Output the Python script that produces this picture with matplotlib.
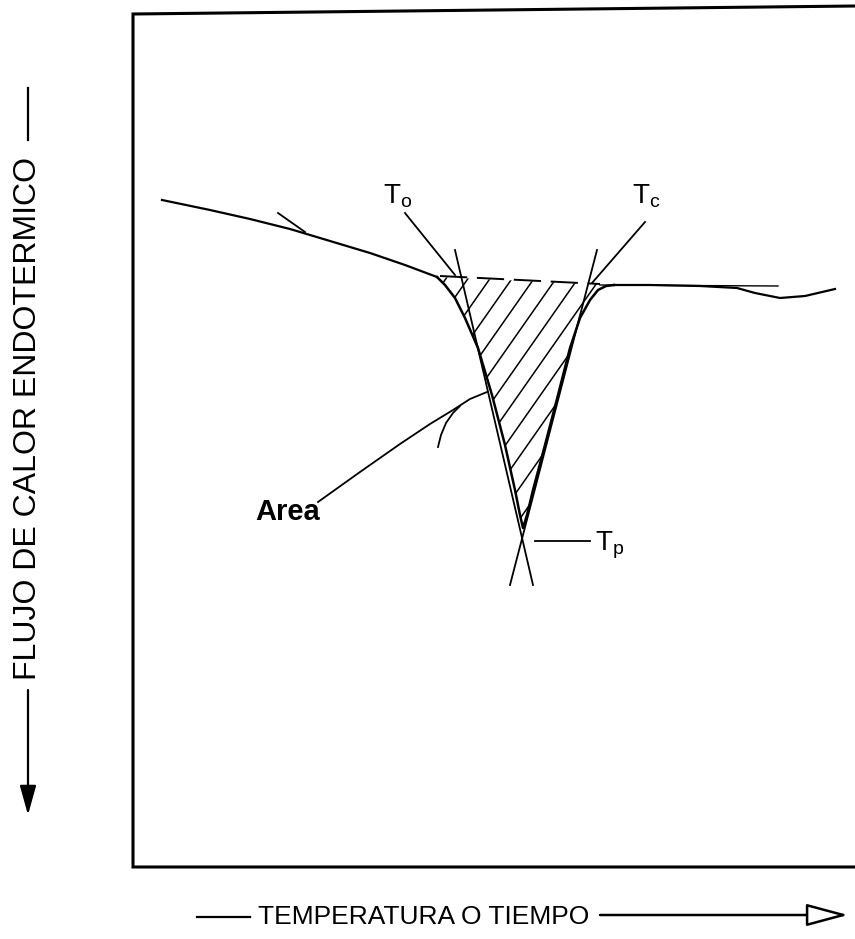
import numpy as np
import matplotlib.pyplot as plt
from matplotlib.patches import Polygon

plt.rcParams['font.family'] = ['Liberation Sans', 'DejaVu Sans']
plt.rcParams['mathtext.fontset'] = 'custom'
plt.rcParams['mathtext.rm'] = 'Liberation Sans'
plt.rcParams['mathtext.it'] = 'Liberation Sans'

# todo en coordenadas de la imagen (px, y hacia abajo)
marco_x = [855, 133, 133, 855]
marco_y = [6, 14, 867, 867]

# linea base antes del pico
base_izq_x = [162, 210, 250, 290, 330, 370, 405, 437]
base_izq_y = [200, 210, 219, 229, 241, 253, 265, 277]

# curva del pico endotermico
pico_x = [437, 445, 455, 465, 478, 492, 505, 515, 520, 523, 527, 533, 545, 558, 570, 580, 590, 598, 606, 614]
pico_y = [277, 285, 298, 318, 348, 395, 445, 490, 515, 528, 515, 490, 445, 395, 348, 318, 300, 290, 286, 285]

# linea base despues del pico
base_der_x = [614, 650, 700, 737, 755, 780, 805, 835]
base_der_y = [285, 285, 286, 288, 293, 298, 296, 289]

# extrapolaciones y tangentes
interp_x = [440, 600]
interp_y = [276, 284]
ext_der_x = [600, 778]
ext_der_y = [285, 286]
tan_izq_x = [455, 533]
tan_izq_y = [250, 585]
tan_der_x = [597, 510]
tan_der_y = [250, 585]

# indicadores
to_x, to_y = [405, 455], [213, 275]
tc_x, tc_y = [645, 592], [222, 283]
tp_x, tp_y = [535, 590], [541, 541]
area_x = [318, 360, 400, 430, 453, 470, 487]
area_y = [502, 472, 444, 424, 410, 399, 392]
gancho_x = [438, 441, 446, 453, 460]
gancho_y = [447, 435, 423, 413, 406]
marca_x = [278, 305]
marca_y = [213, 232]

fig = plt.figure(figsize=(8.55, 9.39), dpi=100)
ax = fig.add_axes([0, 0, 1, 1])
ax.set_xlim(0, 855)
ax.set_ylim(939, 0)
ax.axis('off')

k = 'black'
ax.plot(marco_x, marco_y, color=k, lw=2.2, solid_joinstyle='miter')

ax.plot(base_izq_x, base_izq_y, color=k, lw=1.6)
ax.plot(pico_x, pico_y, color=k, lw=1.8)
ax.plot(base_der_x, base_der_y, color=k, lw=1.6)
ax.plot(interp_x, interp_y, color=k, lw=1.4, dashes=(14, 5))
ax.plot(ext_der_x, ext_der_y, color=k, lw=1.0)
ax.plot(tan_izq_x, tan_izq_y, color=k, lw=1.3)
ax.plot(tan_der_x, tan_der_y, color=k, lw=1.3)

for xs, ys in [(to_x, to_y), (tc_x, tc_y), (tp_x, tp_y), (area_x, area_y),
               (gancho_x, gancho_y), (marca_x, marca_y)]:
    ax.plot(xs, ys, color=k, lw=1.3)

# rayado del area
zona = Polygon(np.column_stack([pico_x, pico_y]), closed=True, fill=False, lw=0)
ax.add_patch(zona)
yy = np.array([260, 560])
for c in np.arange(430, 720, 22):
    ln, = ax.plot(c - 0.7 * (yy - 270), yy, color=k, lw=1.1)
    ln.set_clip_path(zona)

ax.text(383, 182, r'T$_\mathrm{o}$', fontsize=20, ha='left', va='top')
ax.text(632, 183, r'T$_\mathrm{c}$', fontsize=20, ha='left', va='top')
ax.text(595, 530, r'T$_\mathrm{p}$', fontsize=20, ha='left', va='top')
ax.text(255, 512, 'Area', fontsize=21, fontweight='bold', ha='left', va='center')

# ejes
ax.plot([28, 28], [88, 140], color=k, lw=1.6)
ax.annotate('', xy=(28, 815), xytext=(28, 690),
            arrowprops=dict(arrowstyle='-|>,head_length=1.8,head_width=0.5',
                            color=k, lw=1.6, shrinkA=0, shrinkB=0))
ax.text(28, 418, 'FLUJO DE CALOR ENDOTERMICO', fontsize=23, rotation=90,
        ha='center', va='center')

ax.plot([197, 250], [917, 917], color=k, lw=1.6)
ax.text(424, 917, 'TEMPERATURA O TIEMPO', fontsize=19,
        ha='center', va='center')
ax.annotate('', xy=(848, 915), xytext=(600, 915),
            arrowprops=dict(arrowstyle='-|>,head_length=2.6,head_width=0.7',
                            ec=k, fc='white', lw=1.8, shrinkA=0, shrinkB=0))

fig.savefig('out.png', dpi=100)
